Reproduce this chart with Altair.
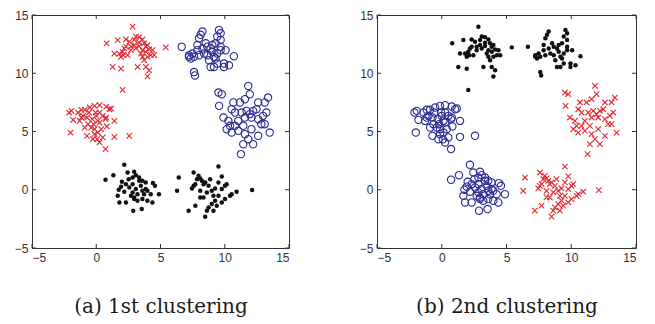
import altair as alt
import pandas as pd

# ---- cluster point coordinates (same points in both panels) ----
A_x = [0.81,2.83,1.67,2.31,2.57,3.09,3.34,3.60,3.73,3.86,3.99,4.12,4.38,4.51,4.25,3.99,3.73,3.86,4.12,3.99,3.22,1.93,1.28,2.05,1.41,1.80,2.05,2.18,2.31,2.70,2.96,3.09,3.34,3.60,3.47,3.60,3.86,5.41,1.93,2.11,2.44,2.70,3.34,2.96]
A_y = [12.57,14.0,12.85,12.9,12.71,13.15,13.1,12.9,12.57,12.28,12.42,12.04,11.98,11.55,11.55,11.41,11.12,10.54,10.25,9.73,10.54,10.39,10.54,8.57,11.69,11.69,11.84,12.13,12.28,12.28,12.42,12.13,12.33,11.98,11.69,11.41,11.84,12.22,11.41,11.55,11.55,11.98,12.62,12.86]

B_x = [6.65,8.26,8.13,8.0,9.55,9.68,9.42,9.68,9.29,9.03,8.65,8.26,7.87,7.48,7.22,7.35,7.61,8.0,8.39,8.65,9.03,9.42,9.68,10.07,10.71,8.90,9.16,9.42,9.94,10.33,9.94,7.61,7.68,8.77,9.29,9.68,7.87,8.90,9.16,8.52,7.22]
B_y = [12.28,13.58,13.3,13.0,13.72,13.43,13.15,12.86,12.57,12.42,12.28,12.13,11.98,11.69,11.55,11.26,11.41,11.55,11.69,11.55,11.84,11.69,11.98,11.98,11.46,10.54,10.54,10.83,10.83,10.68,10.54,10.1,9.81,11.12,11.26,12.28,12.42,12.13,11.41,12.57,11.41]

C_x = [0.72,1.33,2.18,2.44,2.95,3.08,3.34,3.59,2.0,2.52,1.93,1.75,2.18,1.67,1.80,2.31,2.88,3.54,2.70,2.95,3.21,3.59,3.98,4.37,4.24,4.88,4.57,4.41,3.85,3.47,3.08,2.83,2.57,2.31,2.83,3.21,3.72,3.98,3.34,2.83,3.59,2.95,3.85]
C_y = [0.86,1.25,2.14,1.48,1.54,1.25,1.05,0.77,0.68,0.91,0.26,0.0,-0.17,-0.52,-1.09,-1.09,-1.8,-1.66,-0.52,-0.8,-0.94,-0.8,-0.94,-1.09,-0.38,-0.38,0.34,0.57,0.06,0.34,0.06,-0.23,0.2,0.48,0.48,-0.38,-0.38,-0.08,0.77,1.05,-0.08,-0.66,0.63]

D_x = [6.42,6.29,7.58,7.96,8.09,8.22,8.48,8.74,7.58,7.45,9.51,9.77,10.15,10.02,9.25,8.99,8.61,8.35,8.09,9.12,9.51,9.25,8.99,8.74,9.12,8.61,8.48,7.71,7.19,10.54,10.92,12.13,10.41,9.77,9.38,9.77,8.86,8.35,7.71,7.84,10.02,8.09,9.51]
D_y = [1.05,-0.09,1.48,1.2,0.97,0.77,0.63,0.34,0.34,0.11,1.99,1.14,0.48,0.34,0.11,-0.09,-0.23,-0.66,-0.66,-0.52,-0.52,-0.94,-1.23,-1.52,-1.8,-1.8,-2.31,-1.37,-1.8,-0.38,-0.17,-0.03,-0.52,-1.09,-1.37,0.06,0.91,0.48,0.48,0.91,-0.8,-0.09,0.63]

E_x = [-2.11,-1.93,-2.0,-1.8,-1.16,-0.9,-1.03,-1.16,-0.57,-0.13,0.26,0.77,1.16,1.41,1.41,2.57,0.26,0.72,-0.72,-0.13,0.13,0.51,0.82,0.77,0.26,-0.13,-0.39,-0.9,-0.64,0.0,-0.05,-0.31,-0.51,0.26,0.51,-1.41,-0.72,-1.29,-0.21,0.13,1.03,0.72,0.39,-0.26,0.08]
E_y = [6.63,6.77,4.91,6.0,6.86,6.86,6.34,6.2,6.63,7.2,7.26,7.14,6.97,5.91,4.54,4.63,4.06,3.49,4.63,4.77,4.91,4.49,5.43,6.2,5.77,5.2,5.34,5.34,5.63,6.34,6.63,6.06,7.06,6.63,6.34,6.63,6.2,5.91,5.63,5.91,6.91,6.06,5.2,4.34,4.34]

F_x = [9.51,9.77,9.56,9.9,10.28,10.15,10.54,10.8,11.18,11.57,11.83,11.95,12.6,13.11,13.37,13.24,13.11,13.5,12.6,12.21,11.26,11.44,11.83,12.08,11.44,11.05,11.57,11.95,12.21,12.47,12.08,11.7,11.31,10.8,10.54,10.67,12.6,12.85,11.57,12.98,11.05,10.41]
F_y = [8.34,8.2,7.2,6.2,5.91,5.2,4.91,5.49,7.49,7.77,8.91,8.2,7.49,7.49,7.91,6.63,5.63,4.91,4.63,3.91,3.06,3.91,4.34,5.2,5.49,5.91,6.2,6.49,6.77,6.91,6.2,6.77,6.63,6.63,6.91,7.49,6.06,5.63,4.77,6.34,5.06,5.49]

tick_values = [-5, 0, 5, 10, 15]
captions = ["(a) 1st clustering", "(b) 2nd clustering"]

# marker assignment of clusters in each clustering
assign_1 = {"cross": ["A", "E"], "circle": ["B", "F"], "dot": ["C", "D"]}
assign_2 = {"cross": ["F", "D"], "circle": ["E", "C"], "dot": ["A", "B"]}

rows = []
for name, xs, ys in [("A", A_x, A_y), ("B", B_x, B_y), ("C", C_x, C_y),
                     ("D", D_x, D_y), ("E", E_x, E_y), ("F", F_x, F_y)]:
    for xv, yv in zip(xs, ys):
        rows.append({"x": xv, "y": yv, "cluster": name})
df = pd.DataFrame(rows)
ticks_df = pd.DataFrame({"x": tick_values, "y": tick_values})

RED = "#e3262f"
BLUE = "#2c2c93"
BLACK = "#111111"
XPATH = "M-1,-1L1,1M1,-1L-1,1"


def panel(assign, caption, w, h):
    sc = alt.Scale(domain=[-5, 15], nice=False, zero=False)
    X = alt.X("x:Q", scale=sc, axis=alt.Axis(values=tick_values, title=caption))
    Y = alt.Y("y:Q", scale=sc, axis=alt.Axis(values=tick_values, title=None))
    base = alt.Chart(df)
    crosses = base.transform_filter(
        alt.FieldOneOfPredicate(field="cluster", oneOf=assign["cross"])
    ).mark_point(shape=XPATH, size=30, color=RED, strokeWidth=1.1, filled=False, opacity=1).encode(x=X, y=Y)
    circles = base.transform_filter(
        alt.FieldOneOfPredicate(field="cluster", oneOf=assign["circle"])
    ).mark_point(shape="circle", size=54, color=BLUE, strokeWidth=1.1, filled=False, opacity=1).encode(x=X, y=Y)
    dots = base.transform_filter(
        alt.FieldOneOfPredicate(field="cluster", oneOf=assign["dot"])
    ).mark_point(shape="circle", size=20, color=BLACK, filled=True, opacity=1).encode(x=X, y=Y)
    tb = alt.Chart(ticks_df)
    tcol = "#333333"
    t_bottom = tb.mark_rule(color=tcol, strokeWidth=1).encode(x=X, y=alt.value(h), y2=alt.value(h - 4))
    t_top = tb.mark_rule(color=tcol, strokeWidth=1).encode(x=X, y=alt.value(0), y2=alt.value(4))
    t_left = tb.mark_rule(color=tcol, strokeWidth=1).encode(y=Y, x=alt.value(0), x2=alt.value(4))
    t_right = tb.mark_rule(color=tcol, strokeWidth=1).encode(y=Y, x=alt.value(w), x2=alt.value(w - 4))
    return alt.layer(circles, crosses, dots, t_bottom, t_top, t_left, t_right).properties(width=w, height=h)


p1 = panel(assign_1, captions[0], 257, 233)
p2 = panel(assign_2, captions[1], 259, 233)

chart = alt.hconcat(p1, p2, spacing=68).properties(
    padding={"left": 5, "top": 0, "right": 0, "bottom": 0}
).configure_view(
    stroke="#333333", strokeWidth=1
).configure_axis(
    domain=False, ticks=False, grid=False,
    labelFont="Liberation Sans", labelFontSize=12, labelColor="#333333", labelPadding=4,
    titleFont="DejaVu Serif", titleFontSize=20, titleFontWeight="normal",
    titleColor="#1a1a1a", titlePadding=33,
)

chart.save("out.html", embed_options={"renderer": "svg", "actions": False})
